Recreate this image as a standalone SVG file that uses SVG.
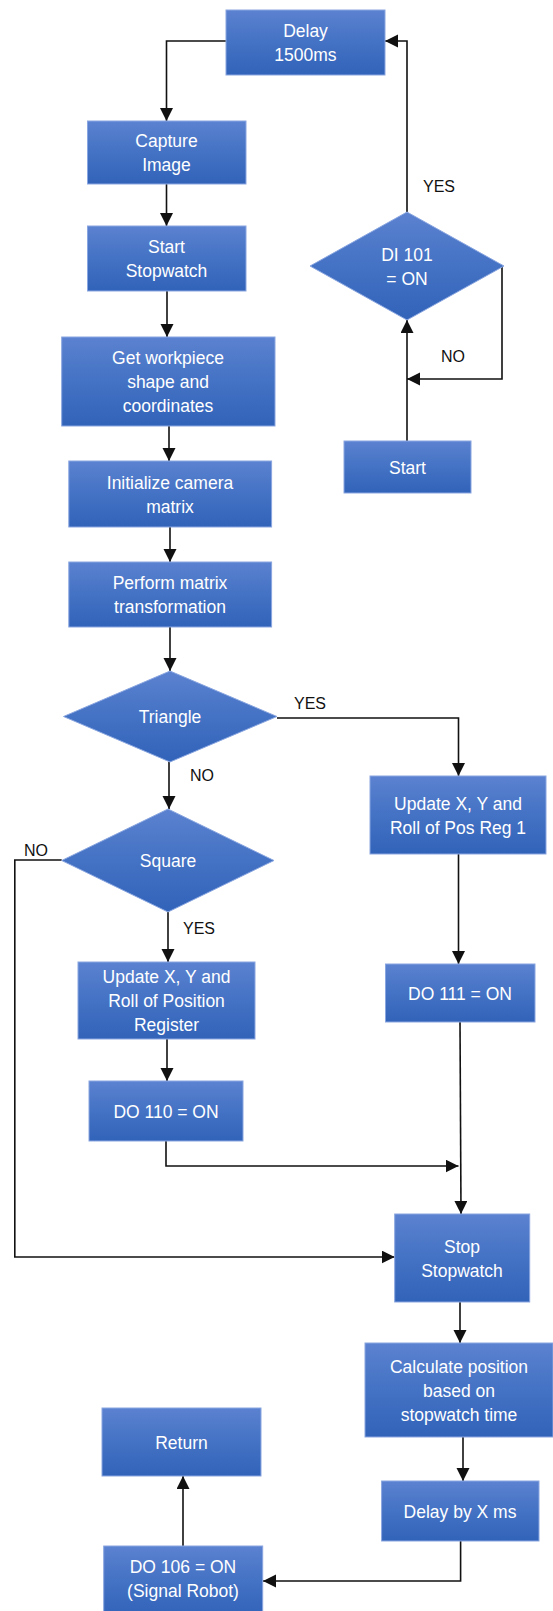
<svg xmlns="http://www.w3.org/2000/svg" width="553" height="1611" viewBox="0 0 553 1611">
<defs>
<linearGradient id="g" x1="0" y1="0" x2="0" y2="1">
<stop offset="0" stop-color="#5b82d0"/>
<stop offset="0.5" stop-color="#4472c4"/>
<stop offset="1" stop-color="#3163b9"/>
</linearGradient>
<marker id="ah" markerUnits="userSpaceOnUse" markerWidth="14" markerHeight="14" refX="13" refY="6.5" orient="auto">
<path d="M0,0 L13,6.5 L0,13 z" fill="#111"/>
</marker>
<style>
.n{fill:url(#g);stroke:#8aa6e0;stroke-width:1}
.t{font-family:"Liberation Sans",Arial,sans-serif;font-size:17.5px;fill:#fff;text-anchor:middle}
.l{font-family:"Liberation Sans",Arial,sans-serif;font-size:16px;fill:#111;text-anchor:middle}
.c{fill:none;stroke:#111;stroke-width:1.6;marker-end:url(#ah)}
</style>
</defs>
<rect width="553" height="1611" fill="#fff"/>
<g id="connectors">
<path class="c" d="M226,41 H166.5 V121"/>
<path class="c" d="M166.5,184 V226"/>
<path class="c" d="M167,291 V337"/>
<path class="c" d="M169,426 V461"/>
<path class="c" d="M170,527 V562"/>
<path class="c" d="M170,627 V671"/>
<path class="c" d="M277,718 H458.5 V776"/>
<path class="c" d="M169,762 V809"/>
<path class="c" d="M61.7,860 H14.8 V1257 H394.7"/>
<path class="c" d="M168,912 V962"/>
<path class="c" d="M167,1039 V1081"/>
<path class="c" d="M166,1141 V1166 H458.5"/>
<path class="c" d="M458.5,854 V964"/>
<path class="c" d="M460,1022 L461,1214"/>
<path class="c" d="M460,1302 V1343"/>
<path class="c" d="M463,1437 V1481"/>
<path class="c" d="M460.6,1541 V1581 H263"/>
<path class="c" d="M183,1546 V1476"/>
<path class="c" d="M407,441 V320"/>
<path class="c" d="M407,212 V41 H385"/>
<path class="c" d="M502,266 V379 H407"/>
<text class="l" x="439" y="192">YES</text>
<text class="l" x="453" y="362">NO</text>
<text class="l" x="310" y="709">YES</text>
<text class="l" x="202" y="781">NO</text>
<text class="l" x="36" y="856">NO</text>
<text class="l" x="199" y="934">YES</text>
</g>
<g id="delay1500"><rect class="n" x="226" y="10" width="159" height="65"/><text class="t" x="305.5" y="37">Delay</text><text class="t" x="305.5" y="61">1500ms</text></g>
<g id="capture"><rect class="n" x="87.5" y="121" width="158.5" height="63"/><text class="t" x="166.5" y="147">Capture</text><text class="t" x="166.5" y="171">Image</text></g>
<g id="startStopwatch"><rect class="n" x="87.5" y="226" width="158.5" height="65"/><text class="t" x="166.5" y="253">Start</text><text class="t" x="166.5" y="277">Stopwatch</text></g>
<g id="getWorkpiece"><rect class="n" x="61.7" y="337" width="213.3" height="89"/><text class="t" x="168" y="364">Get workpiece</text><text class="t" x="168" y="388">shape and</text><text class="t" x="168" y="412">coordinates</text></g>
<g id="initCamera"><rect class="n" x="68.8" y="461" width="202.8" height="66"/><text class="t" x="170" y="488.5">Initialize camera</text><text class="t" x="170" y="512.5">matrix</text></g>
<g id="performMatrix"><rect class="n" x="68.8" y="562" width="202.8" height="65"/><text class="t" x="170" y="589">Perform matrix</text><text class="t" x="170" y="613">transformation</text></g>
<g id="triangle"><polygon class="n" points="170,671 277,716.5 170,762 63.5,716.5"/><text class="t" x="170" y="723">Triangle</text></g>
<g id="square"><polygon class="n" points="168,809 274,860.5 168,912 61.7,860.5"/><text class="t" x="168" y="867">Square</text></g>
<g id="updatePosReg"><rect class="n" x="78" y="962" width="177" height="77"/><text class="t" x="166.5" y="983">Update X, Y and</text><text class="t" x="166.5" y="1007">Roll of Position</text><text class="t" x="166.5" y="1031">Register</text></g>
<g id="do110"><rect class="n" x="89" y="1081" width="154" height="60"/><text class="t" x="166" y="1117.5">DO 110 = ON</text></g>
<g id="updatePosReg1"><rect class="n" x="370" y="776" width="176" height="78"/><text class="t" x="458" y="809.5">Update X, Y and</text><text class="t" x="458" y="833.5">Roll of Pos Reg 1</text></g>
<g id="do111"><rect class="n" x="385.5" y="964" width="149.5" height="58"/><text class="t" x="460" y="999.5">DO 111 = ON</text></g>
<g id="stopStopwatch"><rect class="n" x="394.7" y="1214" width="135" height="88"/><text class="t" x="462" y="1252.5">Stop</text><text class="t" x="462" y="1276.5">Stopwatch</text></g>
<g id="calculate"><rect class="n" x="365" y="1343" width="188" height="94"/><text class="t" x="459" y="1372.5">Calculate position</text><text class="t" x="459" y="1396.5">based on</text><text class="t" x="459" y="1420.5">stopwatch time</text></g>
<g id="delayX"><rect class="n" x="381.6" y="1481" width="157.4" height="60"/><text class="t" x="460" y="1517.5">Delay by X ms</text></g>
<g id="do106"><rect class="n" x="103.7" y="1546" width="159" height="70"/><text class="t" x="183" y="1573">DO 106 = ON</text><text class="t" x="183" y="1597">(Signal Robot)</text></g>
<g id="return"><rect class="n" x="102" y="1408" width="159" height="68"/><text class="t" x="181.5" y="1448.5">Return</text></g>
<g id="di101"><polygon class="n" points="407,212 504,266 407,320 310,266"/><text class="t" x="407" y="260.5">DI 101</text><text class="t" x="407" y="284.5">= ON</text></g>
<g id="start"><rect class="n" x="344" y="441" width="127" height="52"/><text class="t" x="407.5" y="473.5">Start</text></g>
</svg>
